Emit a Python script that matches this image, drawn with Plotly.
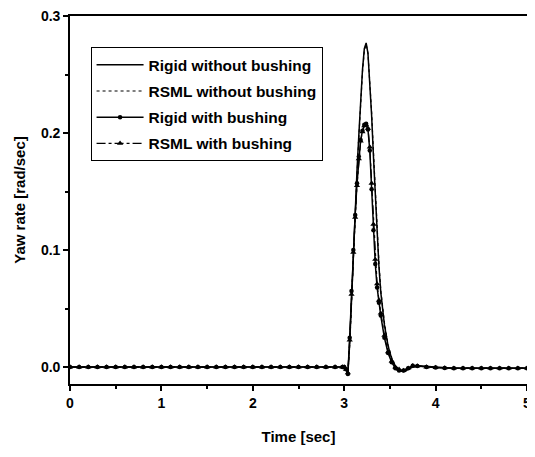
import plotly.graph_objects as go

# Time samples [sec]
time = [0.0, 0.1, 0.2, 0.3, 0.4, 0.5, 0.6, 0.7, 0.8, 0.9, 1.0, 1.1, 1.2, 1.3, 1.4,
        1.5, 1.6, 1.7, 1.8, 1.9, 2.0, 2.1, 2.2, 2.3, 2.4, 2.5, 2.6, 2.7, 2.8, 2.9,
        2.98, 3.0, 3.02, 3.04, 3.06, 3.08, 3.10, 3.12, 3.14, 3.16, 3.18, 3.20,
        3.22, 3.24, 3.26, 3.28, 3.30, 3.32, 3.34, 3.36, 3.38, 3.40, 3.44, 3.48,
        3.52, 3.56, 3.60, 3.65, 3.70, 3.75, 3.80, 3.90, 4.0, 4.1, 4.2, 4.3, 4.4,
        4.5, 4.6, 4.7, 4.8, 4.9, 5.0]

_base = [0.0] * 30

rigid_without = _base + [
    0.0, 0.0, -0.002, -0.006, 0.020, 0.060, 0.100, 0.135, 0.168, 0.198,
    0.228, 0.254, 0.272, 0.277, 0.268, 0.245, 0.215, 0.180, 0.145, 0.113,
    0.086, 0.064, 0.036, 0.018, 0.007, 0.000, -0.003, -0.004, -0.002, 0.000,
    0.001, 0.0005, -0.0005, -0.0008, -0.001, -0.001, -0.001, -0.001, -0.001,
    -0.001, -0.001, -0.001, -0.001]

rsml_without = _base + [
    0.0, 0.0, -0.002, -0.005, 0.018, 0.057, 0.097, 0.132, 0.165, 0.196,
    0.226, 0.252, 0.270, 0.276, 0.268, 0.247, 0.218, 0.184, 0.149, 0.117,
    0.089, 0.066, 0.038, 0.019, 0.008, 0.001, -0.002, -0.003, -0.002, 0.000,
    0.001, 0.0005, -0.0005, -0.0008, -0.001, -0.001, -0.001, -0.001, -0.001,
    -0.001, -0.001, -0.001, -0.001]

rigid_with = _base + [
    0.0, 0.0, -0.002, -0.006, 0.025, 0.065, 0.100, 0.130, 0.157, 0.180,
    0.194, 0.202, 0.207, 0.208, 0.203, 0.185, 0.152, 0.117, 0.088, 0.068,
    0.055, 0.044, 0.025, 0.012, 0.004, -0.001, -0.003, -0.003, -0.001, 0.001,
    0.0008, 0.0, -0.0005, -0.0008, -0.001, -0.001, -0.001, -0.001, -0.001,
    -0.001, -0.001, -0.001, -0.001]

rsml_with = _base + [
    0.0, 0.0, -0.002, -0.005, 0.023, 0.062, 0.098, 0.128, 0.155, 0.178,
    0.193, 0.201, 0.206, 0.207, 0.204, 0.188, 0.157, 0.122, 0.092, 0.071,
    0.057, 0.046, 0.027, 0.013, 0.005, 0.000, -0.002, -0.003, -0.001, 0.001,
    0.0008, 0.0, -0.0005, -0.0008, -0.001, -0.001, -0.001, -0.001, -0.001,
    -0.001, -0.001, -0.001, -0.001]

series_names = ["Rigid without bushing", "RSML without bushing",
                "Rigid with bushing", "RSML with bushing"]

x_ticks = [0, 1, 2, 3, 4, 5]
y_ticks = [0.0, 0.1, 0.2, 0.3]

FONT = "Liberation Sans, Arial, sans-serif"

fig = go.Figure()
fig.add_trace(go.Scatter(x=time, y=rigid_without, name=series_names[0], mode="lines",
                         legendgroup="a", line=dict(color="black", width=1.5)))
fig.add_trace(go.Scatter(x=time, y=rsml_without, name=series_names[1], mode="lines",
                         legendgroup="b", line=dict(color="black", width=1.2, dash="dot")))
fig.add_trace(go.Scatter(x=time, y=rigid_with, name=series_names[2], mode="lines+markers",
                         legendgroup="c", line=dict(color="black", width=1.5),
                         marker=dict(symbol="circle", size=4.5, color="black")))
fig.add_trace(go.Scatter(x=time, y=rsml_with, name=series_names[3], mode="lines+markers",
                         legendgroup="d", line=dict(color="black", width=1.2, dash="dashdot"),
                         marker=dict(symbol="triangle-up", size=5.5, color="black")))

tick_font = dict(family=FONT, size=14, color="black", weight="bold")
title_font = dict(family=FONT, size=15, color="black", weight="bold")

axis_common = dict(showline=True, linecolor="black", linewidth=1.6, mirror=True,
                   ticks="outside", tickcolor="black", ticklen=5, tickwidth=1.5,
                   showgrid=False, zeroline=False, automargin=False,
                   ticklabeloverflow="allow", tickfont=tick_font)

fig.update_xaxes(range=[0, 5], tickvals=x_ticks,
                 minor=dict(ticks="outside", dtick=0.5, ticklen=3, tickcolor="black"),
                 title=dict(text="Time [sec]", font=title_font, standoff=22),
                 **axis_common)
fig.update_yaxes(range=[-0.0145, 0.3], tickvals=y_ticks, tickformat=".1f",
                 minor=dict(ticks="outside", dtick=0.05, tick0=0, ticklen=3, tickcolor="black"),
                 title=dict(text="Yaw rate [rad/sec]", font=title_font, standoff=12),
                 **axis_common)

# The page adds an 8px body margin, so the figure is sized to fit the window.
fig.update_layout(
    width=527, height=449,
    margin=dict(l=62, r=8, t=8, b=73),
    paper_bgcolor="white", plot_bgcolor="white",
    font=dict(family=FONT, size=14, color="black"),
    legend=dict(x=0.045, y=0.915, xanchor="left", yanchor="top",
                bordercolor="black", borderwidth=1, bgcolor="white",
                font=dict(family=FONT, size=15.5, color="black", weight="bold"),
                itemwidth=47, tracegroupgap=3),
    showlegend=True,
)

fig.write_html("out.html")
